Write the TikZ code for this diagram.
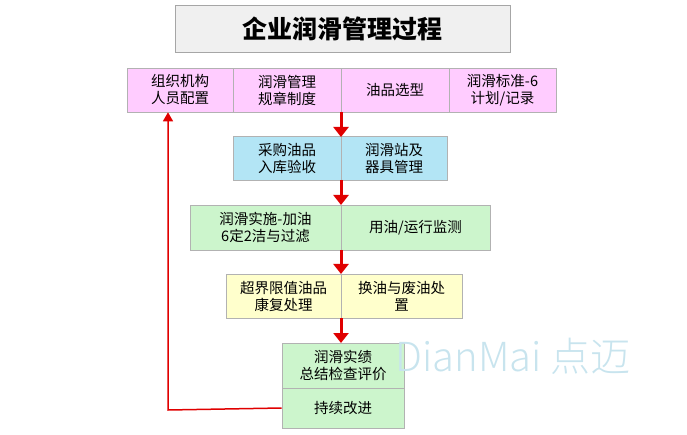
\documentclass[tikz,border=0pt]{standalone}
\usepackage{fontspec}
\setmainfont{Noto Sans CJK SC}
\newfontfamily\lightf{Noto Sans CJK SC Light}
\usetikzlibrary{arrows.meta}
\definecolor{pk}{HTML}{FFCCFF}
\definecolor{bl}{HTML}{B3E5F5}
\definecolor{gr}{HTML}{CCF5CC}
\definecolor{yl}{HTML}{FFFFCC}
\definecolor{ar}{HTML}{E00000}
\definecolor{wm}{HTML}{C8E4EE}
\begin{document}
\begin{tikzpicture}[x=1pt,y=-1pt,
 cell/.style={draw=gray!60,line width=0.6pt,minimum height=44pt,inner sep=0pt,align=center,font=\fontsize{14.5}{17}\selectfont},
 arr/.style={ar,line width=3pt,-{Triangle[length=10pt,width=15pt]}}]
\useasboundingbox (0,0) rectangle (687,435);
\node[draw=gray!70,fill=gray!12,line width=0.8pt,minimum width=335pt,minimum height=47pt,font=\fontsize{25}{29}\selectfont\bfseries] (t) at (342.5,28.5) {企业润滑管理过程};
\node[cell,fill=pk,minimum width=106pt] (a1) at (180,90) {组织机构\\人员配置};
\node[cell,fill=pk,minimum width=108pt] (a2) at (287,90) {润滑管理\\规章制度};
\node[cell,fill=pk,minimum width=108pt] (a3) at (395,90) {油品选型};
\node[cell,fill=pk,minimum width=107pt] (a4) at (502.5,90) {润滑标准-6\\计划/记录};
\node[cell,fill=bl,minimum width=108pt] (b1) at (287,158.5) {采购油品\\入库验收};
\node[cell,fill=bl,minimum width=106pt] (b2) at (394,158.5) {润滑站及\\器具管理};
\node[cell,fill=gr,minimum width=151pt,minimum height=45pt] (c1) at (265.5,227.5) {润滑实施-加油\\6定2洁与过滤};
\node[cell,fill=gr,minimum width=149pt,minimum height=45pt] (c2) at (415.5,227.5) {用油/运行监测};
\node[cell,fill=yl,minimum width=115pt] (d1) at (283.5,296) {超界限值油品\\康复处理};
\node[cell,fill=yl,minimum width=121pt] (d2) at (401.5,296) {换油与废油处\\置};
\node[cell,fill=gr,minimum width=122pt,minimum height=45pt] (e1) at (343,365.5) {润滑实绩\\总结检查评价};
\node[cell,fill=gr,minimum width=122pt,minimum height=40pt] (e2) at (343,408) {持续改进};
\draw[arr] (341,112) -- (341,137);
\draw[arr] (341,180) -- (341,205);
\draw[arr] (341,250) -- (341,274);
\draw[arr] (341,318) -- (341,343);
\coordinate (f1) at (168,410);
\draw[ar,line width=1.5pt,-{Triangle[length=9pt,width=10pt]}] (e2.west) -- (f1) -- (a1.south -| f1);
\node[text=wm,font=\lightf\fontsize{40}{44}\selectfont,anchor=west] (w) at (392,356) {DianMai 点迈};
\end{tikzpicture}
\end{document}
